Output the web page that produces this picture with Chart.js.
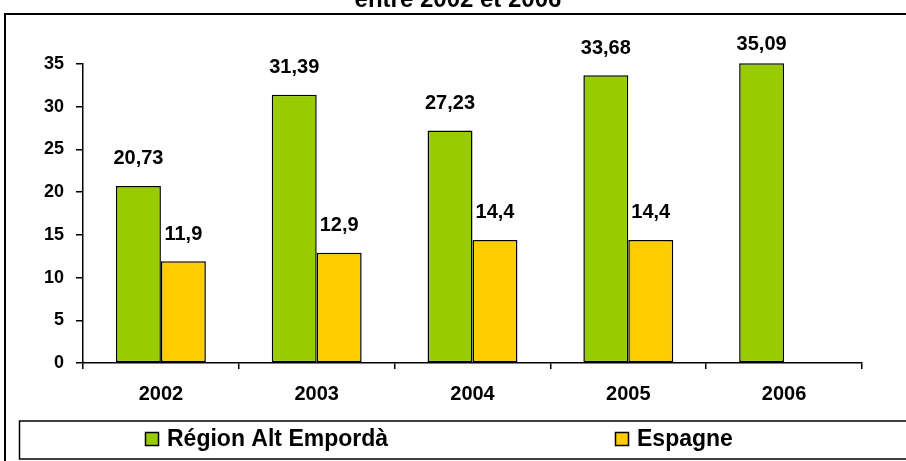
<!DOCTYPE html>
<html>
<head>
<meta charset="utf-8">
<script src="https://cdn.jsdelivr.net/npm/chart.js@4"></script>
<style>
  html, body { margin: 0; padding: 0; background: #fff; }
  canvas { display: block; }
</style>
</head>
<body>
<canvas id="chart" width="906" height="461"></canvas>
<script>
// Données
const annees = ['2002', '2003', '2004', '2005', '2006'];
const altEmporda = [20.73, 31.39, 27.23, 33.68, 35.09];
const espagne = [11.9, 12.9, 14.4, 14.4, null];
const yTicks = [0, 5, 10, 15, 20, 25, 30, 35];
const titre = 'entre 2002 et 2006';

const VERT = '#99CC00';
const JAUNE = '#FFCC00';
const FONT = '"Liberation Sans", Arial, sans-serif';

// ===== CADRE, TITRE, LEGENDE =====
const decor = {
  id: 'decor',
  beforeDraw(chart) {
    const ctx = chart.ctx;
    ctx.save();
    ctx.fillStyle = '#fff';
    ctx.fillRect(0, 0, chart.width, chart.height);
    // titre (coupé en haut)
    ctx.fillStyle = '#000';
    ctx.font = 'bold 24px ' + FONT;
    ctx.textAlign = 'center';
    ctx.textBaseline = 'alphabetic';
    ctx.fillText(titre, 458, 7);
    // cadre extérieur
    ctx.strokeStyle = '#000';
    ctx.lineWidth = 2;
    ctx.strokeRect(5, 14, 930, 470);
    ctx.restore();
  },
  afterDraw(chart) {
    const ctx = chart.ctx;
    ctx.save();
    ctx.strokeStyle = '#000';
    ctx.lineWidth = 1.5;
    ctx.fillStyle = '#fff';
    ctx.fillRect(19, 421, 900, 38);
    ctx.strokeRect(19.5, 421, 900, 38);
    const pos = [145, 615];
    chart.data.datasets.forEach((ds, i) => {
      ctx.fillStyle = ds.backgroundColor;
      ctx.fillRect(pos[i], 432, 13, 13);
      ctx.lineWidth = 1.5;
      ctx.strokeRect(pos[i] + 0.5, 432.5, 13, 13);
      ctx.fillStyle = '#000';
      ctx.font = 'bold 23px ' + FONT;
      ctx.textAlign = 'left';
      ctx.textBaseline = 'alphabetic';
      ctx.fillText(ds.label, pos[i] + 22, 446);
    });
    ctx.restore();
  },
  afterDatasetsDraw(chart) {
    const ctx = chart.ctx;
    ctx.save();
    ctx.fillStyle = '#000';
    ctx.font = 'bold 20px ' + FONT;
    ctx.textAlign = 'center';
    ctx.textBaseline = 'middle';
    chart.data.datasets.forEach((ds, i) => {
      chart.getDatasetMeta(i).data.forEach((bar, j) => {
        const v = ds.data[j];
        if (v == null) return;
        const y = Math.max(bar.y - 27, chart.chartArea.top - 19.5);
        ctx.fillText(String(v).replace('.', ','), bar.x, y);
      });
    });
    ctx.restore();
  }
};

new Chart(document.getElementById('chart'), {
  type: 'bar',
  data: {
    labels: annees,
    datasets: [
      { label: 'Région Alt Empordà', data: altEmporda, backgroundColor: VERT, borderColor: '#000', borderWidth: 1.5, borderSkipped: false, clip: false },
      { label: 'Espagne', data: espagne, backgroundColor: JAUNE, borderColor: '#000', borderWidth: 1.5, borderSkipped: false, clip: false }
    ]
  },
  options: {
    responsive: false,
    animation: false,
    devicePixelRatio: 1,
    layout: { padding: { top: 64, right: 44, left: 0, bottom: 0 } },
    datasets: { bar: { categoryPercentage: 0.577, barPercentage: 1 } },
    plugins: { legend: { display: false }, title: { display: false }, tooltip: { enabled: false } },
    scales: {
      x: {
        afterFit(s) { s.height = 98; },
        grid: { drawOnChartArea: false, color: '#000', lineWidth: 1.5, tickLength: 6, offset: true },
        border: { color: '#000', width: 1.5 },
        ticks: { color: '#000', padding: 13, font: { family: FONT, size: 20, weight: 'bold' } }
      },
      y: {
        min: 0, max: 35,
        afterFit(s) { s.width = 83; },
        afterBuildTicks(s) { s.ticks = yTicks.map(v => ({ value: v })); },
        grid: { drawOnChartArea: false, color: '#000', lineWidth: 1.5, tickLength: 7 },
        border: { color: '#000', width: 1.5 },
        ticks: { color: '#000', padding: 12, font: { family: FONT, size: 18, weight: 'bold' } }
      }
    }
  },
  plugins: [decor]
});
</script>
</body>
</html>
